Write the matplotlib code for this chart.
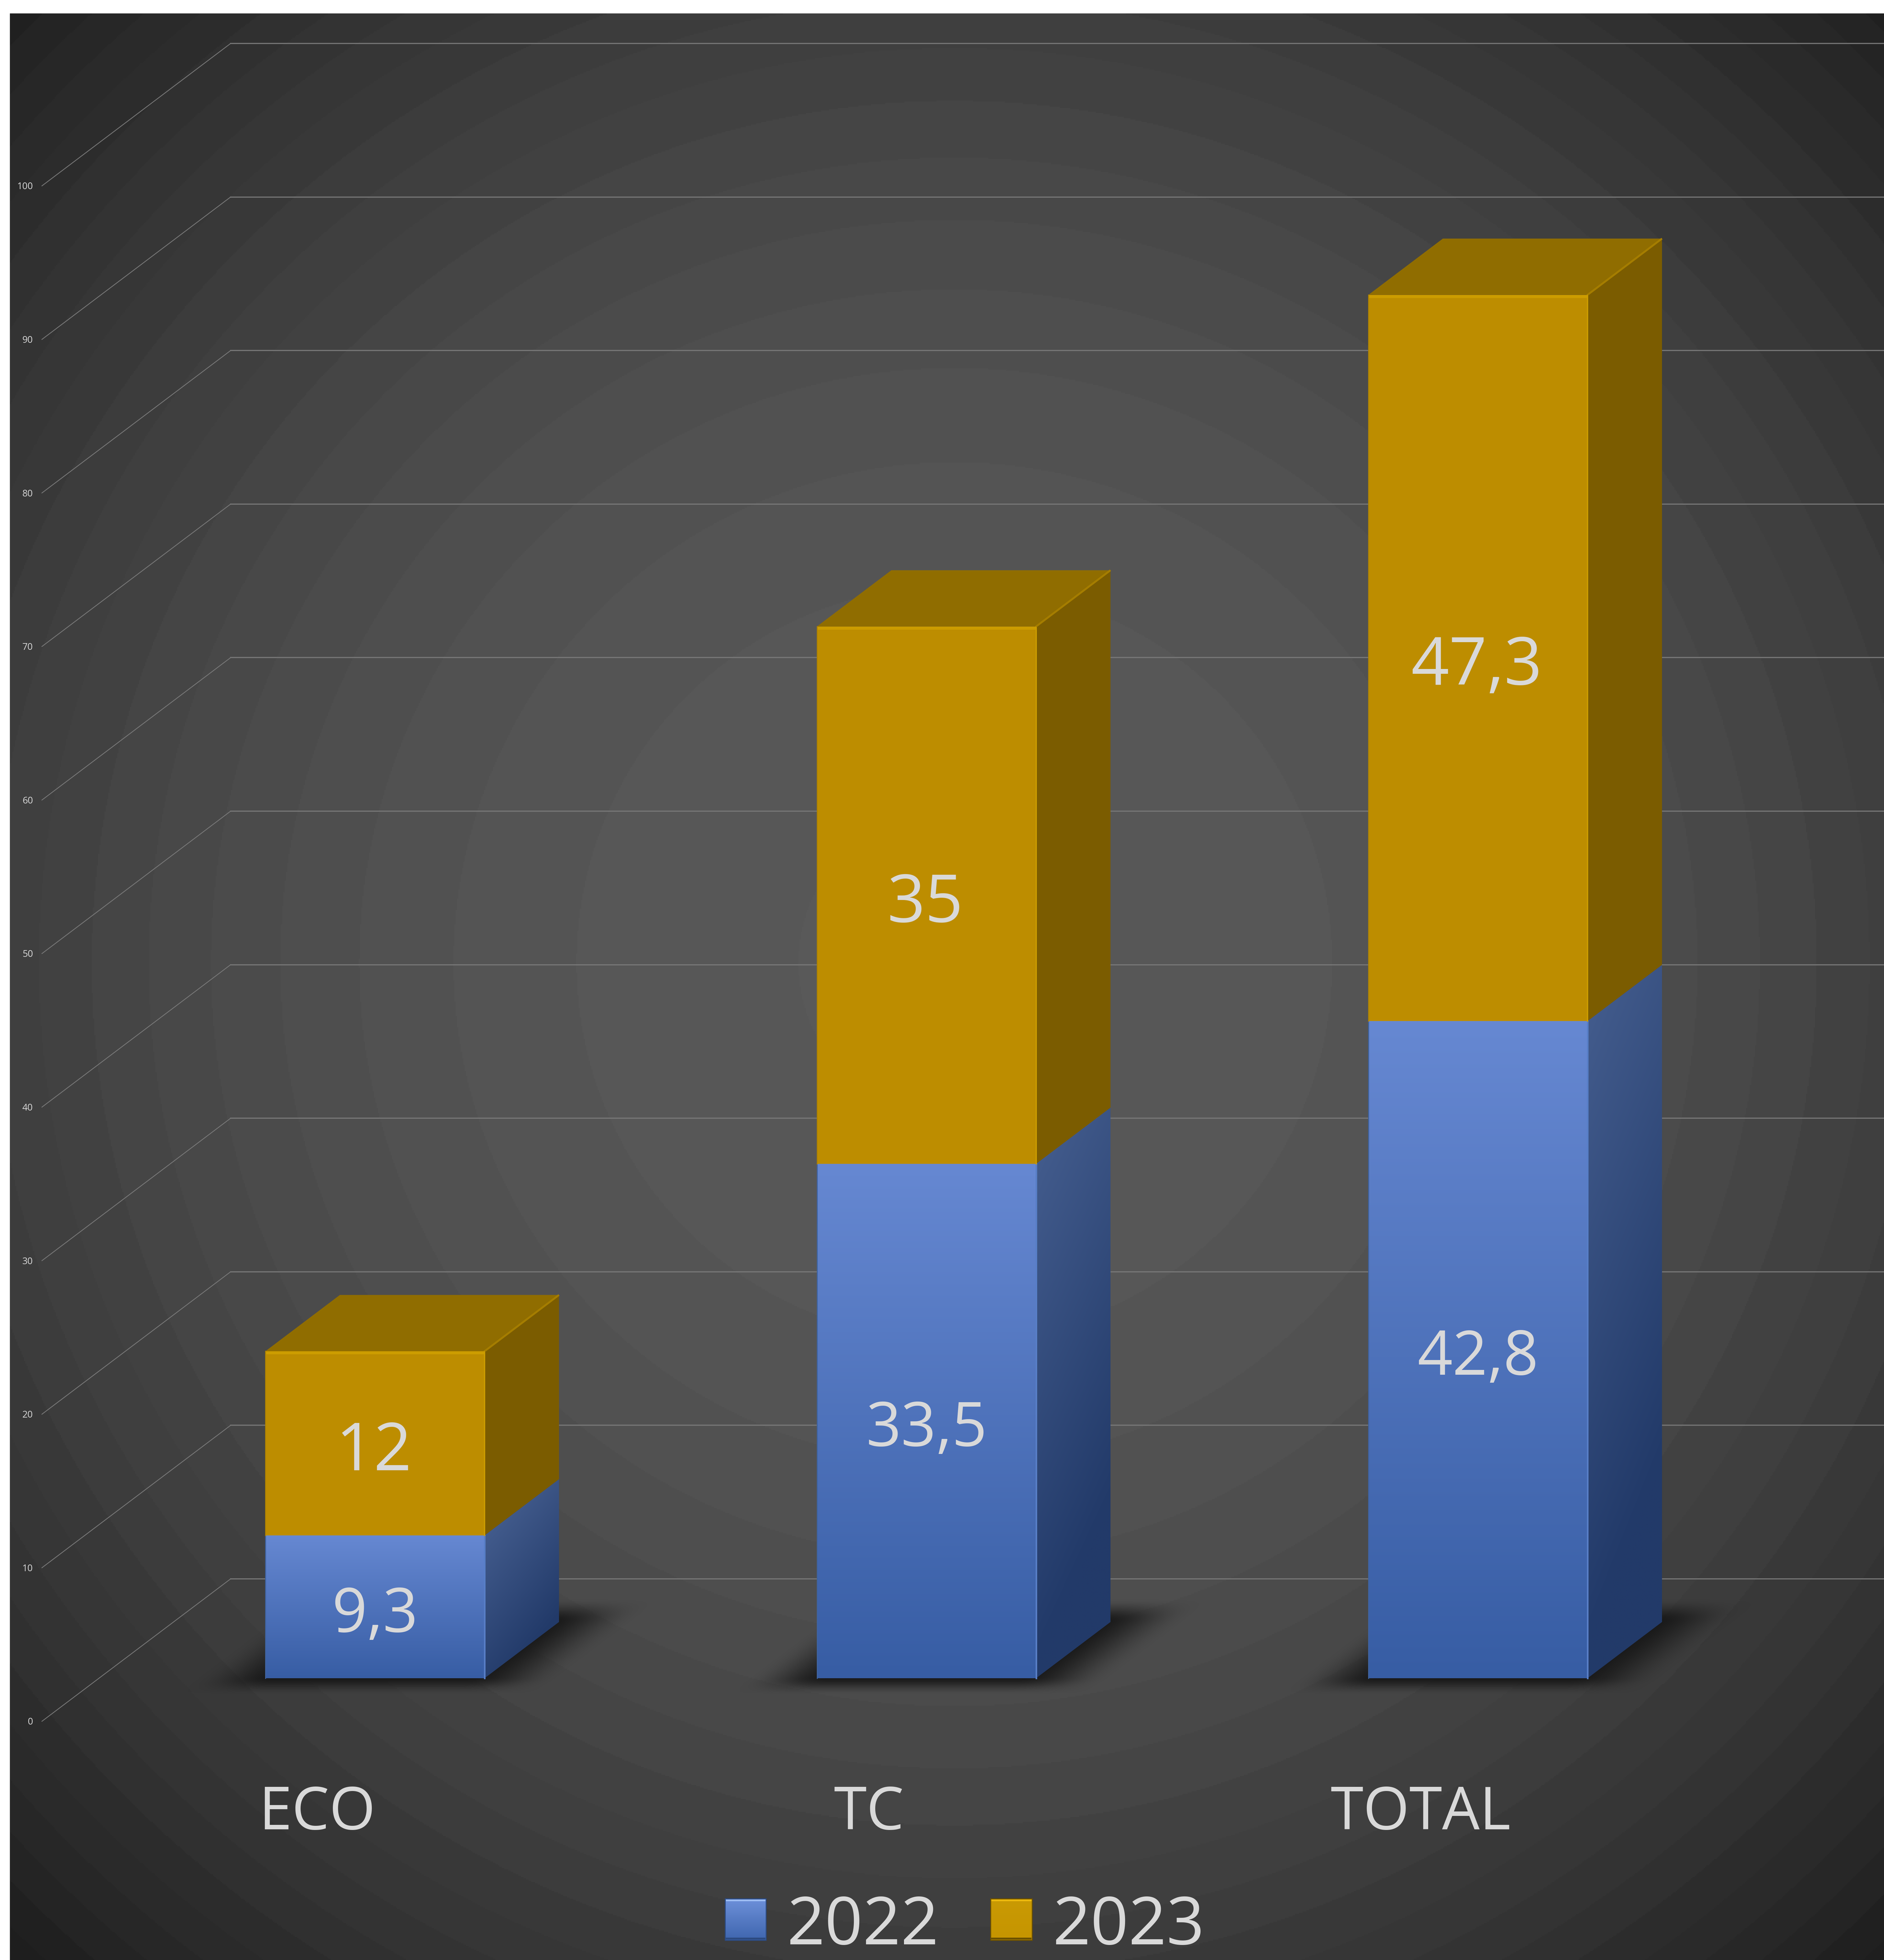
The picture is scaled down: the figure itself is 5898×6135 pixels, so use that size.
#!/usr/bin/env python3
"""Stacked 3D-look column chart, ECO / TC / TOTAL for 2022 and 2023."""

import matplotlib
matplotlib.use('Agg')
import matplotlib.pyplot as plt
from matplotlib.patches import Polygon
from matplotlib.colors import to_rgb
import numpy as np

plt.rcParams['font.family'] = ['Open Sans', 'DejaVu Sans']

# Data
categories = ['ECO', 'TC', 'TOTAL']
values_2022 = [9.3, 33.5, 42.8]
values_2023 = [12, 35, 47.3]
labels_2022 = ['9,3', '33,5', '42,8']
labels_2023 = ['12', '35', '47,3']
series_names = ['2022', '2023']
y_ticks = [0, 10, 20, 30, 40, 50, 60, 70, 80, 90, 100]

# Layout
W, H = 5898, 6135
PX_CAT0 = 1174      # centre of first column
PX_CAT = 1726.5     # px per category
PX_BASE = 5253      # front bottom of columns
PX_UNIT = 48.06     # px per value unit
BAR_W = 686 / PX_CAT
DEPTH_X = 233 / PX_CAT
DEPTH_Y = 176 / PX_UNIT
WALL_X_FRONT = (131 - PX_CAT0) / PX_CAT
WALL_X_BACK = (722 - PX_CAT0) / PX_CAT
WALL_D_FRONT = -135 / PX_UNIT
WALL_D_BACK = 311 / PX_UNIT

TEXT = '#d9d9d9'
GRID = '#787878'
BLUE_TOP, BLUE_BOTTOM = '#6688d2', '#375da4'
SIDE_TOP, SIDE_BOTTOM = '#425b8c', '#223a69'
GOLD_FRONT, GOLD_SIDE, GOLD_TOP = '#bd8d00', '#7b5c00', '#906d00'
GOLD_EDGE = '#cc9c00'
GOLD_RIDGE = '#a57d00'


def px(size):
    return size * 0.72


def mix(a, b, t):
    a, b = np.array(to_rgb(a)), np.array(to_rgb(b))
    t = np.clip(t, 0, 1)[..., None]
    return a + (b - a) * t


def soft(t):
    t = np.clip(t, 0, 1)
    return t * t * (3 - 2 * t)


fig = plt.figure(figsize=(W / 100, H / 100), dpi=100, facecolor='white')

# Background layer in pixel coordinates
ax_bg = fig.add_axes([0, 0, 1, 1])
ax_bg.set_xlim(0, W)
ax_bg.set_ylim(H, 0)
ax_bg.axis('off')

yy, xx = np.mgrid[42:H:4, 31:W:4]
r = np.hypot(xx - 2986, yy - 3014) / 4240
lum = 89 - 58 * r ** 2.2
lum = np.round(lum / 3) * 3 / 255
ax_bg.imshow(lum, extent=(31, W, H, 42), cmap='gray', vmin=0, vmax=1,
             aspect='auto', interpolation='nearest')
ax_bg.set_xlim(0, W)
ax_bg.set_ylim(H, 0)

# Chart layer in data coordinates
ax = fig.add_axes([0, 0, 1, 1])
ax.patch.set_alpha(0)
ax.axis('off')
xlim = (-PX_CAT0 / PX_CAT, (W - PX_CAT0) / PX_CAT)
ylim = ((PX_BASE - H) / PX_UNIT, PX_BASE / PX_UNIT)

# Gridlines: wall diagonal then back line to the right edge
for tick in y_ticks:
    ax.plot([WALL_X_FRONT, WALL_X_BACK], [tick + WALL_D_FRONT, tick + WALL_D_BACK],
            color=GRID, lw=px(2.5), zorder=1, solid_capstyle='round')
    ax.plot([WALL_X_BACK, xlim[1]], [tick + WALL_D_BACK] * 2,
            color=GRID, lw=px(3.5), zorder=1)
    ax.text(WALL_X_FRONT - 28 / PX_CAT, tick + WALL_D_FRONT - 3 / PX_UNIT, str(tick), color=TEXT,
            fontsize=px(29), ha='right', va='center', zorder=5)


def draw_shadow(c):
    left = c - BAR_W / 2
    x0, x1 = left - 0.18, left + BAR_W + DEPTH_X + 0.18
    y0, y1 = -2.5, DEPTH_Y + 2.5
    gx, gy = np.meshgrid(np.linspace(x0, x1, 260), np.linspace(y0, y1, 140))
    d = gy / DEPTH_Y
    u = (gx - left - d * DEPTH_X) / BAR_W
    edge_u = soft((u + 0.32) / 0.38) * soft((1.34 - u) / 0.40)
    edge_d = soft((d + 0.30) / 0.32) * soft((1.42 - d) / 0.42)
    rgba = np.zeros(gx.shape + (4,))
    rgba[..., :3] = 0.09
    rgba[..., 3] = 0.95 * edge_u * edge_d
    ax.imshow(rgba, extent=(x0, x1, y0, y1), origin='lower', aspect='auto',
              interpolation='bilinear', zorder=2)


def draw_blue(c, top):
    left, right = c - BAR_W / 2, c + BAR_W / 2
    # front face, light at the top
    t = np.linspace(0, 1, 256).reshape(-1, 1)
    ax.imshow(mix(BLUE_TOP, BLUE_BOTTOM, t), extent=(left, right, 0, top), aspect='auto',
              interpolation='bilinear', zorder=3)
    # side face with a slanted gradient
    span = top + DEPTH_Y
    gu, gv = np.meshgrid(np.linspace(0, 1, 64), np.linspace(0, 1, 256))
    rise = DEPTH_Y / span
    t = (gv - rise * (1 - gu) + 0.18 * gu) * 1.15
    side = ax.imshow(mix(SIDE_TOP, SIDE_BOTTOM, t),
                     extent=(right, right + DEPTH_X, 0, span), aspect='auto',
                     interpolation='bilinear', zorder=3)
    poly = Polygon([(right, 0), (right + DEPTH_X, DEPTH_Y),
                    (right + DEPTH_X, span), (right, top)],
                   closed=True, fc='none', ec='none', transform=ax.transData)
    ax.add_patch(poly)
    side.set_clip_path(poly)
    ax.plot([right, right], [0, top], color='#587ec6', lw=px(5), zorder=3.5)
    ax.plot([left, left], [0, top], color='#3f639f', lw=px(3), zorder=3.5)


def draw_gold(c, bottom, top):
    left, right = c - BAR_W / 2, c + BAR_W / 2
    ax.add_patch(Polygon([(left, bottom), (right, bottom), (right, top), (left, top)],
                         closed=True, fc=GOLD_FRONT, ec='none', zorder=3))
    ax.add_patch(Polygon([(right, bottom), (right + DEPTH_X, bottom + DEPTH_Y),
                          (right + DEPTH_X, top + DEPTH_Y), (right, top)],
                         closed=True, fc=GOLD_SIDE, ec='none', zorder=3))
    ax.add_patch(Polygon([(left, top), (right, top),
                          (right + DEPTH_X, top + DEPTH_Y), (left + DEPTH_X, top + DEPTH_Y)],
                         closed=True, fc=GOLD_TOP, ec='none', zorder=3))
    ax.plot([left, right], [top - 5 / PX_UNIT] * 2, color=GOLD_EDGE, lw=px(9), zorder=3.5,
            solid_capstyle='butt')
    ax.plot([right, right], [bottom, top], color=GOLD_EDGE, lw=px(4), zorder=3.5)
    ax.plot([left, left], [bottom, top], color='#b08400', lw=px(3), zorder=3.5)
    ax.plot([right, right + DEPTH_X], [top, top + DEPTH_Y], color=GOLD_RIDGE, lw=px(6),
            zorder=3.5, solid_capstyle='butt')


for i, name in enumerate(categories):
    blue, gold = values_2022[i], values_2023[i]
    draw_shadow(i)
    draw_blue(i, blue)
    draw_gold(i, blue, blue + gold)
    # digits sit just below the middle of each segment
    ax.text(i, blue / 2 - 78 / PX_UNIT, labels_2022[i], color=TEXT, fontsize=px(192),
            ha='center', va='baseline', zorder=5)
    ax.text(i - 4 / PX_CAT, blue + gold / 2 - 84 / PX_UNIT, labels_2023[i], color=TEXT, fontsize=px(208),
            ha='center', va='baseline', zorder=5)
    ax.text(i - 180 / PX_CAT, -473 / PX_UNIT, name, color=TEXT, fontsize=px(186),
            ha='center', va='baseline', zorder=5)

ax.set_xlim(*xlim)
ax.set_ylim(*ylim)

# Legend, drawn on the pixel layer
swatches = [(2270, 2398, '#6d90da', '#3f66ae', 2464),
            (3101, 3231, '#c99a04', '#c69500', 3296)]
for (sx0, sx1, c_top, c_bottom, tx), label in zip(swatches, series_names):
    t = np.linspace(0, 1, 128).reshape(-1, 1)
    ax_bg.imshow(mix(c_top, c_bottom, t), extent=(sx0, sx1, 6073, 5943), aspect='auto',
                 interpolation='bilinear', zorder=3)
    edge = '#2c4a80' if label == '2022' else '#6b5000'
    glow = '#9dbcf2' if label == '2022' else '#ecb90e'
    ax_bg.plot([sx0, sx1, sx1, sx0, sx0], [5943, 5943, 6073, 6073, 5943], color=edge,
               lw=px(3), zorder=4)
    ax_bg.plot([sx0 + 2, sx1 - 2], [5948, 5948], color=glow, lw=px(5), zorder=4,
               solid_capstyle='butt')
    ax_bg.plot([sx0 + 2, sx1 - 2], [6068, 6068], color=edge, lw=px(6), zorder=4,
               solid_capstyle='butt')
    ax_bg.text(tx, 6086, label, color=TEXT, fontsize=px(208), ha='left', va='baseline', zorder=5)
ax_bg.set_xlim(0, W)
ax_bg.set_ylim(H, 0)

fig.savefig('out.png', dpi=100, facecolor='white')
